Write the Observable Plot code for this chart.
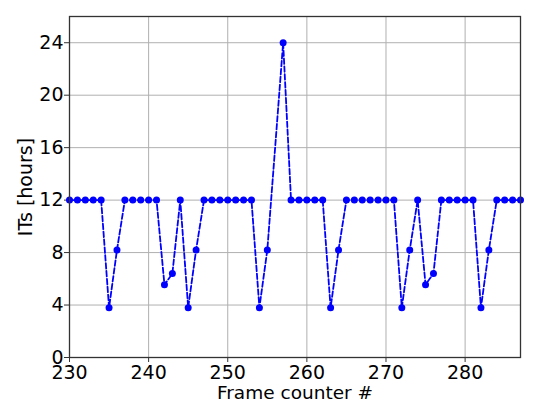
<!DOCTYPE html>
<html><head><meta charset="utf-8">
<script src="https://cdn.jsdelivr.net/npm/d3@7"></script>
<script src="https://cdn.jsdelivr.net/npm/@observablehq/plot@0.6"></script>
<style>body{margin:0;background:#fff} svg{display:block}</style>
</head><body><div id="chart"></div>
<script>
const frames = [230,231,232,233,234,235,236,237,238,239,240,241,242,243,244,245,246,247,248,249,250,251,252,253,254,255,257,258,259,260,261,262,263,264,265,266,267,268,269,270,271,272,273,274,275,276,277,278,279,280,281,282,283,284,285,286,287];
const its =    [12,12,12,12,12,3.8,8.2,12,12,12,12,12,5.55,6.4,12,3.8,8.2,12,12,12,12,12,12,12,3.8,8.2,24,12,12,12,12,12,3.8,8.2,12,12,12,12,12,12,12,3.8,8.2,12,5.55,6.4,12,12,12,12,12,3.8,8.2,12,12,12,12];
const xTicks = [230,240,250,260,270,280];
const yTicks = [0,4,8,12,16,20,24];
const xLabel = "Frame counter #";
const yLabel = "ITs [hours]";
const data = frames.map((f,i)=>({frame:f, it:its[i]}));
const chart = Plot.plot({
  width:550, height:409, marginLeft:69, marginRight:30, marginTop:16, marginBottom:52,
  style:{fontFamily:"DejaVu Sans", fontSize:"19px", background:"#fff", color:"#000"},
  x:{domain:[230,287], label:null},
  y:{domain:[0,26], label:null},
  marks:[
    Plot.gridX(xTicks,{stroke:"#b0b0b0", strokeOpacity:1, strokeWidth:1}),
    Plot.gridY(yTicks,{stroke:"#b0b0b0", strokeOpacity:1, strokeWidth:1}),
    Plot.axisX(xTicks,{tickSize:5, tickPadding:3, fontSize:19, stroke:"#333", label:null}),
    Plot.axisY(yTicks,{tickSize:5, tickPadding:1, fontSize:19, stroke:"#333", label:null}),
    Plot.line(data,{x:"frame", y:"it", stroke:"#0000ff", strokeWidth:1.8, strokeDasharray:"5.5,2.4"}),
    Plot.dot(data,{x:"frame", y:"it", r:3.5, fill:"#0000ff"}),
    Plot.frame({stroke:"#333", strokeWidth:1.3}),
    Plot.text([xLabel],{frameAnchor:"bottom", dy:36, lineAnchor:"middle", fontSize:18.5, fill:"#000"}),
    Plot.text([yLabel],{frameAnchor:"left", dx:-44, rotate:-90, textAnchor:"middle", lineAnchor:"middle", fontSize:19, fill:"#000"})
  ]
});
document.getElementById("chart").append(chart);
</script>
</body></html>
